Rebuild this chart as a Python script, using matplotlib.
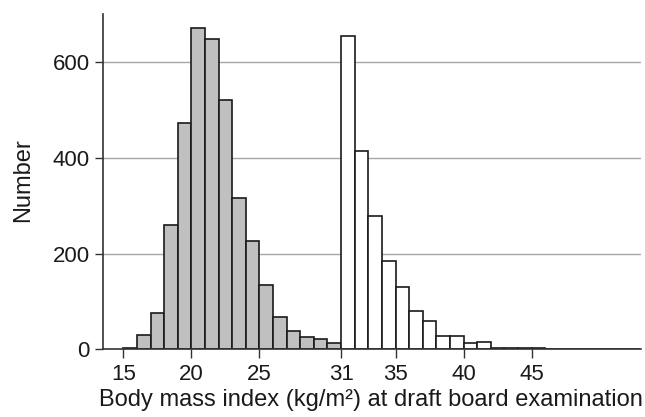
import matplotlib
matplotlib.use('Agg')
import matplotlib.pyplot as plt
import numpy as np

plt.rcParams['font.family'] = ['Liberation Sans', 'DejaVu Sans']

# BMI bins (1 unit wide), counts
normal_edges = list(range(15, 31))
normal_counts = [4, 30, 77, 259, 472, 672, 648, 521, 316, 226, 134, 68, 38, 26, 21, 13]

obese_edges = list(range(31, 53))
obese_counts = [655, 415, 279, 185, 131, 81, 59, 28, 28, 14, 15, 4, 4, 4, 2,
                0, 0, 0, 0, 0, 1, 0]

xticks = [15, 20, 25, 31, 35, 40, 45]
yticks = [0, 200, 400, 600]

fig = plt.figure(figsize=(6.45, 4.17), dpi=100)
ax = fig.add_axes([0.159, 0.162, 0.835, 0.804])

for y in yticks[1:]:
    ax.axhline(y, color='#a8a8a8', lw=1, zorder=0)

ax.bar(normal_edges, normal_counts, width=1, align='edge',
       color='#c0c0c0', edgecolor='#1a1a1a', lw=1.2, zorder=2)
ax.bar(obese_edges, obese_counts, width=1, align='edge',
       color='white', edgecolor='#1a1a1a', lw=1.2, zorder=2)

ax.set_xlim(13.47, 53.05)
ax.set_ylim(0, 700)
ax.set_xticks(xticks)
ax.set_yticks(yticks)

for s in ['top', 'right']:
    ax.spines[s].set_visible(False)
for s in ['left', 'bottom']:
    ax.spines[s].set_color('#333333')
    ax.spines[s].set_linewidth(1.2)

ax.tick_params(axis='x', length=6.5, width=1, color='#333333',
               labelsize=16, labelcolor='#1a1a1a', pad=3.7)
ax.tick_params(axis='y', length=5.5, width=1, color='#333333',
               labelsize=16, labelcolor='#1a1a1a', pad=3.6)

ax.set_xlabel('Body mass index (kg/m²) at draft board examination',
              fontsize=17, color='#1a1a1a', va='top')
ax.xaxis.set_label_coords(0.498, -0.117)
fig.text(23 / 645, 1 - 180 / 417, 'Number', rotation=90, fontsize=17,
         color='#1a1a1a', ha='center', va='center')

fig.savefig('out.png', dpi=100)
